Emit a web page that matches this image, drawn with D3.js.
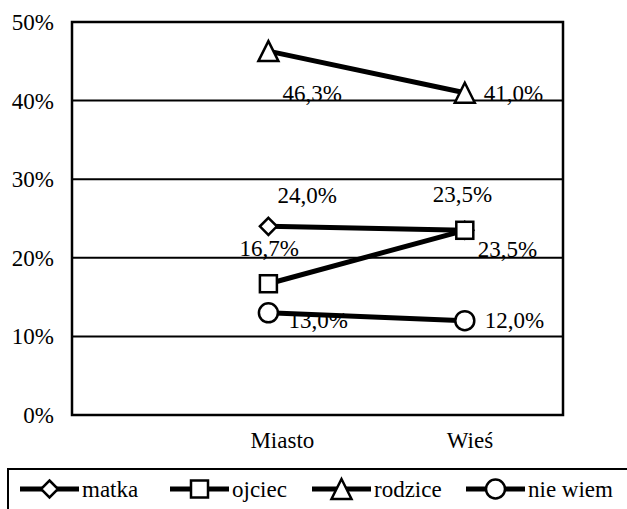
<!DOCTYPE html>
<html>
<head>
<meta charset="utf-8">
<script src="https://cdn.jsdelivr.net/npm/d3@7"></script>
<style>body{margin:0}</style>
</head>
<body>
<svg id="chart" width="627" height="509"></svg>
<script>
// Categories and series values (percent)
const categories = ["Miasto", "Wieś"];
const seriesNames = ["matka", "ojciec", "rodzice", "nie wiem"];
const matka = [24.0, 23.5];
const ojciec = [16.7, 23.5];
const rodzice = [46.3, 41.0];
const nieWiem = [13.0, 12.0];
const yTicks = [0, 10, 20, 30, 40, 50];

const seriesValues = [matka, ojciec, rodzice, nieWiem];
const markerKinds = ["diamond", "square", "triangle", "circle"];

// Where each value label sits relative to its marker: [dx, dy] per series, per category
const labelOffsets = [
  [[9, -23], [-32, -28]],
  [[-29, -28], [13, 27]],
  [[14, 50], [19, 8]],
  [[20, 15], [20, 7]]
];

const svg = d3.select("#chart");
const FONT = 23;

function addText(str, px, py, anchor) {
  return svg.append("text")
    .attr("x", px).attr("y", py)
    .attr("font-size", FONT)
    .attr("font-family", "Times New Roman")
    .attr("text-anchor", anchor || "start")
    .text(str);
}

const plot = { left: 72, right: 563, top: 22, bottom: 415 };

// categories sit at positions 1 and 2 on a 0..2.5 axis
const x = d3.scaleLinear().domain([0, 2.5]).range([plot.left, plot.right]);
const y = d3.scaleLinear().domain([0, 50]).range([plot.bottom, plot.top]);
const cx = i => x(i + 1);
const xPoint = d3.scalePoint().domain(categories).range([cx(0), cx(1)]);

const fmt = v => d3.format(".1f")(v).replace(".", ",") + "%";
const tickFmt = d => d + "%";

// Horizontal gridlines
svg.append("g")
  .selectAll("line")
  .data(yTicks.filter(t => t > 0 && t < 50))
  .join("line")
  .attr("x1", plot.left).attr("x2", plot.right)
  .attr("y1", d => y(d)).attr("y2", d => y(d))
  .attr("stroke", "#000").attr("stroke-width", 2);

// Y tick labels
yTicks.forEach(t => addText(tickFmt(t), plot.left - 18, y(t) + 8, "end"));

// Category labels
categories.forEach(c => addText(c, xPoint(c) - 18, plot.bottom + 33, "start"));

// Plot border
svg.append("rect")
  .attr("x", plot.left).attr("y", plot.top)
  .attr("width", plot.right - plot.left).attr("height", plot.bottom - plot.top)
  .attr("fill", "none").attr("stroke", "#000").attr("stroke-width", 2.5);

// Value labels (under the series lines)
seriesValues.forEach((vals, s) => {
  vals.forEach((v, i) => {
    addText(fmt(v), cx(i) + labelOffsets[s][i][0], y(v) + labelOffsets[s][i][1]);
  });
});

// Marker drawing
function drawMarker(g, kind, px, py) {
  const common = sel => sel.attr("fill", "#fff").attr("stroke", "#000").attr("stroke-width", 2.5);
  if (kind === "diamond") {
    const r = 8.5;
    common(g.append("path").attr("d", `M${px},${py - r}L${px + r},${py}L${px},${py + r}L${px - r},${py}Z`));
  } else if (kind === "square") {
    const h = 8.5;
    common(g.append("rect").attr("x", px - h).attr("y", py - h).attr("width", 2 * h).attr("height", 2 * h));
  } else if (kind === "triangle") {
    const w = 10, hh = 10;
    common(g.append("path").attr("d", `M${px},${py - hh}L${px + w},${py + hh}L${px - w},${py + hh}Z`));
  } else {
    common(g.append("circle").attr("cx", px).attr("cy", py).attr("r", 9.5));
  }
}

const line = d3.line().x((d, i) => cx(i)).y(d => y(d));

seriesValues.forEach((vals, s) => {
  const g = svg.append("g");
  g.append("path").datum(vals)
    .attr("d", line)
    .attr("fill", "none").attr("stroke", "#000").attr("stroke-width", 5);
  vals.forEach((v, i) => drawMarker(g, markerKinds[s], cx(i), y(v)));
});

// Legend
svg.append("rect")
  .attr("x", 8).attr("y", 469).attr("width", 640).attr("height", 60)
  .attr("fill", "none").attr("stroke", "#000").attr("stroke-width", 2);

const legendX = d3.scaleOrdinal().domain(seriesNames).range([20, 170, 312, 466]);
const legendY = 489;
seriesNames.forEach((name, s) => {
  const x0 = legendX(name);
  const g = svg.append("g");
  g.append("line")
    .attr("x1", x0).attr("x2", x0 + 59)
    .attr("y1", legendY).attr("y2", legendY)
    .attr("stroke", "#000").attr("stroke-width", 5);
  drawMarker(g, markerKinds[s], x0 + 29.5, legendY);
  addText(name, x0 + 62, legendY + 8);
});
</script>
</body>
</html>
